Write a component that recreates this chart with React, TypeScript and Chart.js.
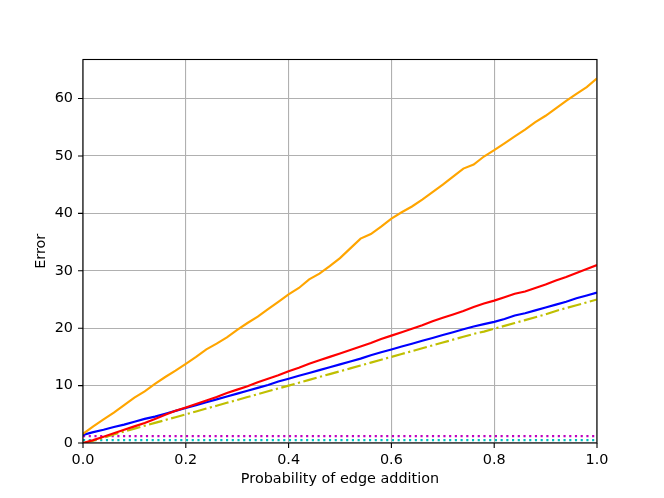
import React, { useEffect, useRef } from "react";
import { Chart, registerables } from "chart.js";

Chart.register(...registerables);

const probabilities = [
  0.0, 0.02, 0.04, 0.06, 0.08, 0.1, 0.12, 0.14, 0.16, 0.18, 0.2,
  0.22, 0.24, 0.26, 0.28, 0.3, 0.32, 0.34, 0.36, 0.38, 0.4,
  0.42, 0.44, 0.46, 0.48, 0.5, 0.52, 0.54, 0.56, 0.58, 0.6,
  0.62, 0.64, 0.66, 0.68, 0.7, 0.72, 0.74, 0.76, 0.78, 0.8,
  0.82, 0.84, 0.86, 0.88, 0.9, 0.92, 0.94, 0.96, 0.98, 1.0,
];

const orangeError = [
  1.6, 2.9, 4.1, 5.3, 6.6, 7.9, 9.0, 10.3, 11.5, 12.6, 13.8,
  15.0, 16.3, 17.3, 18.4, 19.7, 20.9, 22.0, 23.3, 24.6, 25.9,
  27.0, 28.5, 29.5, 30.8, 32.2, 33.9, 35.6, 36.4, 37.7, 39.1,
  40.2, 41.2, 42.4, 43.7, 45.0, 46.4, 47.8, 48.5, 49.9, 51.0,
  52.2, 53.4, 54.6, 55.9, 57.0, 58.3, 59.6, 60.8, 62.0, 63.5,
];

const redError = [
  0.0, 0.5, 1.1, 1.7, 2.3, 2.9, 3.5, 4.2, 4.9, 5.6, 6.2,
  6.8, 7.4, 8.0, 8.7, 9.3, 9.9, 10.6, 11.2, 11.8, 12.5,
  13.1, 13.8, 14.4, 15.0, 15.6, 16.2, 16.8, 17.4, 18.1, 18.7,
  19.3, 19.9, 20.5, 21.2, 21.8, 22.4, 23.0, 23.7, 24.3, 24.8,
  25.4, 26.0, 26.4, 27.0, 27.6, 28.3, 28.9, 29.6, 30.3, 31.0,
];

const blueError = [
  1.4, 1.9, 2.3, 2.8, 3.2, 3.7, 4.2, 4.6, 5.1, 5.6, 6.1,
  6.6, 7.1, 7.6, 8.1, 8.6, 9.1, 9.6, 10.1, 10.7, 11.2,
  11.7, 12.2, 12.7, 13.2, 13.7, 14.2, 14.7, 15.3, 15.8, 16.3,
  16.8, 17.3, 17.8, 18.3, 18.8, 19.3, 19.8, 20.3, 20.7, 21.1,
  21.6, 22.2, 22.6, 23.1, 23.6, 24.1, 24.6, 25.2, 25.7, 26.2,
];

const oliveError = [
  0.0, 0.4, 0.9, 1.5, 2.0, 2.5, 3.0, 3.5, 4.0, 4.5, 5.0,
  5.5, 6.0, 6.5, 7.0, 7.5, 8.0, 8.5, 9.0, 9.5, 10.0,
  10.5, 11.0, 11.5, 12.0, 12.5, 13.0, 13.5, 14.0, 14.5, 15.0,
  15.5, 16.0, 16.5, 17.0, 17.5, 18.0, 18.5, 19.0, 19.4, 19.9,
  20.4, 20.9, 21.4, 21.9, 22.4, 23.0, 23.5, 24.0, 24.5, 25.0,
];

const levelX = [0.0, 1.0];
const magentaLevel = [1.2, 1.2];
const cyanLevel = [0.5, 0.5];

const xTicks = [0.0, 0.2, 0.4, 0.6, 0.8, 1.0];
const yTicks = [0, 10, 20, 30, 40, 50, 60];

const LW = 2.16;
const FONT = { family: "DejaVu Sans", size: 14.4 };

const framePlugin = {
  id: "frame",
  afterDraw(chart: any) {
    const { ctx, chartArea } = chart;
    const { left, right, top, bottom } = chartArea;
    ctx.save();
    ctx.strokeStyle = "#000";
    ctx.lineWidth = 1.1;
    ctx.beginPath();
    const xs = chart.scales.x;
    const ys = chart.scales.y;
    xTicks.forEach((t) => {
      const px = xs.getPixelForValue(t);
      ctx.moveTo(px, bottom);
      ctx.lineTo(px, bottom + 5);
    });
    yTicks.forEach((t) => {
      const py = ys.getPixelForValue(t);
      ctx.moveTo(left, py);
      ctx.lineTo(left - 5, py);
    });
    ctx.stroke();
    ctx.strokeRect(left, top, right - left, bottom - top);
    ctx.restore();
  },
};

function pts(xs: number[], ys: number[]) {
  return xs.map((x, i) => ({ x, y: ys[i] }));
}

export default function App() {
  const ref = useRef<HTMLCanvasElement | null>(null);
  useEffect(() => {
    document.body.style.margin = "0";
    document.body.style.overflow = "hidden";
    const base = { pointRadius: 0, borderWidth: LW, tension: 0, fill: false, borderCapStyle: "butt" as const };
    const chart = new Chart(ref.current as HTMLCanvasElement, {
      type: "line",
      data: {
        datasets: [
          { ...base, data: pts(levelX, cyanLevel), borderColor: "#00bfbf", borderDash: [2.16, 3.56], order: 6 },
          { ...base, data: pts(levelX, magentaLevel), borderColor: "#bf00bf", borderDash: [2.16, 3.56], order: 5 },
          { ...base, data: pts(probabilities, oliveError), borderColor: "#bfbf00", borderDash: [13.8, 3.46, 2.16, 3.46], order: 4 },
          { ...base, data: pts(probabilities, blueError), borderColor: "#0000ff", order: 3 },
          { ...base, data: pts(probabilities, redError), borderColor: "#ff0000", order: 2 },
          { ...base, data: pts(probabilities, orangeError), borderColor: "#ffa500", order: 1 },
        ],
      },
      options: {
        animation: false,
        responsive: false,
        devicePixelRatio: 1,
        layout: { padding: { top: 59.5, right: 67, bottom: 0, left: 0 } },
        plugins: { legend: { display: false }, tooltip: { enabled: false } },
        scales: {
          x: {
            type: "linear",
            min: 0,
            max: 1,
            afterFit: (s: any) => { s.height = 55; },
            afterBuildTicks: (s: any) => { s.ticks = xTicks.map((v) => ({ value: v })); },
            ticks: { font: FONT, color: "#000", padding: 9, maxRotation: 0, callback: (v: any) => Number(v).toFixed(1) },
            grid: { color: "#b0b0b0", lineWidth: 1.1, drawTicks: false },
            border: { display: false },
            title: { display: true, text: "Probability of edge addition", font: FONT, color: "#000", padding: { top: 0, bottom: 10.5 } },
          },
          y: {
            type: "linear",
            min: 0,
            max: 66.8,
            afterFit: (s: any) => { s.width = 83; },
            afterBuildTicks: (s: any) => { s.ticks = yTicks.map((v) => ({ value: v })); },
            ticks: { font: FONT, color: "#000", padding: 10, callback: (v: any) => String(v) },
            grid: { color: "#b0b0b0", lineWidth: 1.1, drawTicks: false },
            border: { display: false },
            title: { display: true, text: "Error", font: FONT, color: "#000", padding: { top: 32.5, bottom: 0 } },
          },
        },
      },
      plugins: [framePlugin],
    });
    return () => chart.destroy();
  }, []);
  return (
    <div style={{ position: "fixed", left: 0, top: 0, width: 664, height: 498, background: "#fff" }}>
      <canvas ref={ref} width={664} height={498} />
    </div>
  );
}
